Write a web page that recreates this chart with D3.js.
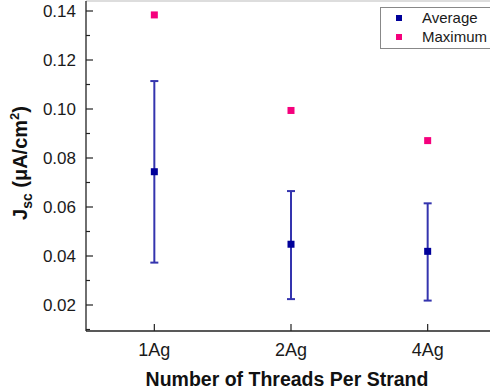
<!DOCTYPE html>
<html>
<head>
<meta charset="utf-8">
<script src="https://cdn.jsdelivr.net/npm/d3@7"></script>
<style>
  html, body { margin: 0; padding: 0; background: #fff; }
  svg { display: block; }
  text { font-family: "Liberation Sans", Arial, sans-serif; }
</style>
</head>
<body>
<svg id="chart" width="490" height="391"></svg>
<script>
// Short-circuit current density by number of Ag threads per strand
const categories = ["1Ag", "2Ag", "4Ag"];
const averageValues = [0.0744, 0.0448, 0.0419];
const errorLow = [0.0373, 0.0224, 0.0218];
const errorHigh = [0.1114, 0.0665, 0.0615];
const maximumValues = [0.1384, 0.0994, 0.0871];
const yTicks = [0.02, 0.04, 0.06, 0.08, 0.10, 0.12, 0.14];
const yMinorTicks = [0.01, 0.03, 0.05, 0.07, 0.09, 0.11, 0.13];
const legendLabels = ["Average", "Maximum"];

const avgColor = "#00009a";
const maxColor = "#f5007d";
const errColor = "#3434ae";

const svg = d3.select("#chart");
const plotLeft = 86, plotTop = 1, plotBottom = 331, plotRight = 496;

const x = d3.scalePoint().domain(categories).range([plotLeft, plotRight]).padding(0.5);
const y = d3.scaleLinear().domain([0.02, 0.14]).range([305, 11]);

// frame: top border
svg.append("line")
  .attr("x1", plotLeft).attr("x2", 490).attr("y1", plotTop).attr("y2", plotTop)
  .attr("stroke", "#bbb").attr("stroke-width", 1.2);

// left axis with inward ticks
const yAxis = svg.append("g").attr("transform", `translate(${plotLeft},0)`);
yAxis.append("line").attr("x1", 0).attr("x2", 0).attr("y1", plotTop).attr("y2", plotBottom)
  .attr("stroke", "#222").attr("stroke-width", 1.3);
yAxis.selectAll(".major").data(yTicks).join("line")
  .attr("x1", 0).attr("x2", 7).attr("y1", d => y(d)).attr("y2", d => y(d))
  .attr("stroke", "#222").attr("stroke-width", 1.2);
yAxis.selectAll(".minor").data(yMinorTicks).join("line")
  .attr("x1", 0).attr("x2", 4).attr("y1", d => y(d)).attr("y2", d => y(d))
  .attr("stroke", "#222").attr("stroke-width", 1.2);
yAxis.selectAll("text").data(yTicks).join("text")
  .attr("x", -10).attr("y", d => y(d)).attr("dy", "0.36em")
  .attr("text-anchor", "end").attr("font-size", 17).attr("fill", "#1a1a1a")
  .text(d => d3.format(".2f")(d));

// bottom axis with inward ticks
const xAxis = svg.append("g");
xAxis.append("line").attr("x1", plotLeft).attr("x2", 490).attr("y1", plotBottom).attr("y2", plotBottom)
  .attr("stroke", "#222").attr("stroke-width", 1.3);
xAxis.selectAll(".tick").data(categories).join("line")
  .attr("x1", d => x(d)).attr("x2", d => x(d)).attr("y1", plotBottom).attr("y2", plotBottom - 7)
  .attr("stroke", "#222").attr("stroke-width", 1.2);
xAxis.selectAll("text").data(categories).join("text")
  .attr("x", d => x(d)).attr("y", 356)
  .attr("text-anchor", "middle").attr("font-size", 18).attr("fill", "#1a1a1a")
  .text(d => d);

// axis titles
svg.append("text")
  .attr("x", 287).attr("y", 386).attr("text-anchor", "middle")
  .attr("font-size", 19.5).attr("font-weight", "bold").attr("fill", "#111")
  .text("Number of Threads Per Strand");

const yTitle = svg.append("text")
  .attr("transform", "translate(27,163) rotate(-90)")
  .attr("text-anchor", "middle").attr("font-size", 20).attr("font-weight", "bold").attr("fill", "#111");
yTitle.append("tspan").text("J");
yTitle.append("tspan").attr("font-size", 14).attr("dy", 5).text("sc");
yTitle.append("tspan").attr("dy", -5).text(" (\u03bcA/cm");
yTitle.append("tspan").attr("font-size", 13).attr("dy", -8).text("2");
yTitle.append("tspan").attr("dy", 8).text(")");

// error bars
const eb = svg.append("g").attr("stroke", errColor).attr("stroke-width", 2);
categories.forEach((c, i) => {
  const cx = x(c);
  eb.append("line").attr("x1", cx).attr("x2", cx).attr("y1", y(errorLow[i])).attr("y2", y(errorHigh[i]));
  [errorLow[i], errorHigh[i]].forEach(v => {
    eb.append("line").attr("x1", cx - 4).attr("x2", cx + 4).attr("y1", y(v)).attr("y2", y(v));
  });
});

// markers
const sz = 7;
svg.append("g").selectAll("rect").data(categories).join("rect")
  .attr("x", d => x(d) - sz / 2).attr("y", (d, i) => y(averageValues[i]) - sz / 2)
  .attr("width", sz).attr("height", sz).attr("fill", avgColor);
svg.append("g").selectAll("rect").data(categories).join("rect")
  .attr("x", d => x(d) - sz / 2).attr("y", (d, i) => y(maximumValues[i]) - sz / 2)
  .attr("width", sz).attr("height", sz).attr("fill", maxColor);

// legend
const lg = svg.append("g");
lg.append("rect").attr("x", 380.5).attr("y", 7.5).attr("width", 120).attr("height", 41)
  .attr("fill", "#fff").attr("stroke", "#888").attr("stroke-width", 1);
legendLabels.forEach((t, i) => {
  const ly = 18 + i * 19;
  lg.append("rect").attr("x", 396).attr("y", ly - 3).attr("width", 6).attr("height", 6)
    .attr("fill", i === 0 ? avgColor : maxColor);
  lg.append("text").attr("x", 422).attr("y", ly).attr("dy", "0.36em")
    .attr("font-size", 15).attr("fill", "#1a1a1a").text(t);
});
</script>
</body>
</html>
